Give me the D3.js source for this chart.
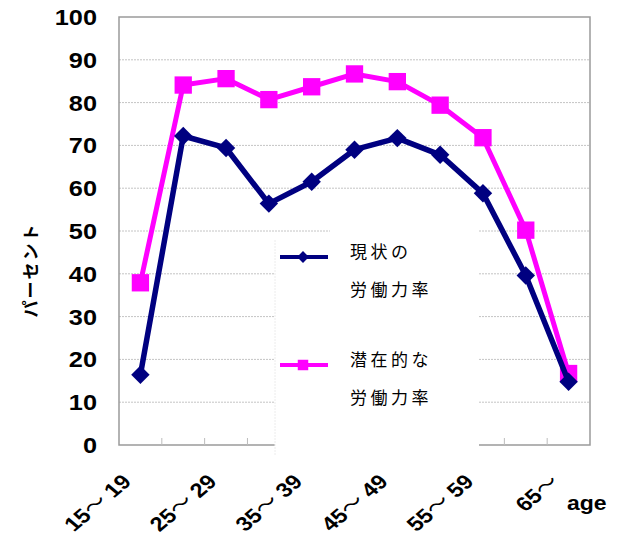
<!DOCTYPE html>
<html>
<head>
<meta charset="utf-8">
<script src="https://cdn.jsdelivr.net/npm/d3@7"></script>
<style>
  html, body { margin: 0; padding: 0; background: #ffffff; }
  svg { display: block; }
</style>
</head>
<body>
<svg id="chart" width="622" height="543"></svg>
<script>
// Age groups (five-year bands)
const categories = ["15～19", "20～24", "25～29", "30～34", "35～39", "40～44",
                    "45～49", "50～54", "55～59", "60～64", "65～"];
// Current labour force participation rate (%)
const currentRate = [16.4, 72.2, 69.4, 56.4, 61.5, 69.0, 71.7, 67.8, 58.8, 39.6, 14.8];
// Potential labour force participation rate (%)
const potentialRate = [37.9, 84.1, 85.6, 80.7, 83.7, 86.7, 84.9, 79.4, 71.8, 50.2, 16.7];
const yTicks = [0, 10, 20, 30, 40, 50, 60, 70, 80, 90, 100];
const seriesNames = [["現状の", "労働力率"], ["潜在的な", "労働力率"]];

const svg = d3.select("#chart");
const plot = { left: 119, right: 590, top: 17, bottom: 445 };

const x = d3.scaleBand().domain(categories).range([plot.left, plot.right]);
const y = d3.scaleLinear().domain([0, 100]).range([plot.bottom, plot.top]);
const cx = d => x(d) + x.bandwidth() / 2;

const latin = "'Liberation Sans', Arial, sans-serif";
const cjk = "'Noto Sans CJK JP', sans-serif";

// Horizontal gridlines
svg.append("g").selectAll("line")
  .data(yTicks.filter(v => v > 0 && v < 100))
  .join("line")
  .attr("x1", plot.left).attr("x2", plot.right)
  .attr("y1", d => y(d)).attr("y2", d => y(d))
  .attr("stroke", "#c4c4c4").attr("stroke-width", 1)
  .attr("stroke-dasharray", "2,1");

// Plot frame
svg.append("rect")
  .attr("x", plot.left).attr("y", plot.top)
  .attr("width", plot.right - plot.left).attr("height", plot.bottom - plot.top)
  .attr("fill", "none").attr("stroke", "#9a9a9a").attr("stroke-width", 1.5);

// Category boundary ticks on the bottom axis
svg.append("g").selectAll("line")
  .data(categories.slice(1))
  .join("line")
  .attr("x1", d => x(d)).attr("x2", d => x(d))
  .attr("y1", plot.bottom).attr("y2", plot.bottom - 7)
  .attr("stroke", "#bcbcbc").attr("stroke-width", 1);

// Y tick labels (slightly wide lettering)
svg.append("g").selectAll("text")
  .data(yTicks)
  .join("text")
  .attr("transform", d => `translate(97,${y(d)}) scale(1.15,1)`)
  .attr("dy", "0.36em")
  .attr("text-anchor", "end")
  .attr("font-family", latin).attr("font-weight", "bold").attr("font-size", 22)
  .attr("fill", "#000")
  .text(d => d);

// Y axis title
svg.append("text")
  .attr("transform", "translate(37,270) rotate(-90)")
  .attr("text-anchor", "middle")
  .attr("font-family", cjk).attr("font-weight", "bold").attr("font-size", 17)
  .attr("letter-spacing", 2)
  .attr("fill", "#000")
  .text("パーセント");

// X tick labels, every other age band, slanted
const xLabels = svg.append("g").selectAll("text")
  .data(categories.filter((d, i) => i % 2 === 0))
  .join("text")
  .attr("transform", d => `translate(${cx(d) - 8},${483}) scale(1.18,1) rotate(-45)`)
  .attr("text-anchor", "end")
  .attr("font-family", latin).attr("font-weight", "bold").attr("font-size", 20)
  .attr("fill", "#000");
xLabels.each(function (d) {
  const parts = d.split("～");
  const t = d3.select(this);
  t.append("tspan").text(parts[0]);
  t.append("tspan").attr("font-family", cjk).attr("font-weight", "normal").text("～");
  if (parts[1]) t.append("tspan").text(" " + parts[1]);
});

svg.append("text")
  .attr("transform", "translate(567,510) scale(1.15,1)")
  .attr("font-family", latin).attr("font-weight", "bold").attr("font-size", 20)
  .attr("fill", "#000")
  .text("age");

// Series
const line = d3.line().x((d, i) => cx(categories[i])).y(d => y(d));

function drawSeries(values, color, diamond, size, width) {
  const g = svg.append("g");
  g.append("path")
    .datum(values)
    .attr("d", line)
    .attr("fill", "none").attr("stroke", color).attr("stroke-width", width)
    .attr("stroke-linejoin", "round");
  g.selectAll("path.m")
    .data(values)
    .join("path")
    .attr("class", "m")
    .attr("d", d3.symbol().type(d3.symbolSquare).size(size))
    .attr("transform", (d, i) => `translate(${cx(categories[i])},${y(d)})` + (diamond ? " rotate(45)" : ""))
    .attr("fill", color);
}

drawSeries(potentialRate, "#ff00ff", false, 300, 5);
drawSeries(currentRate, "#000080", true, 170, 5.5);

// Legend
const legend = svg.append("g");
legend.append("rect").attr("x", 275).attr("y", 240).attr("width", 204).attr("height", 212).attr("fill", "#fff");
legend.append("rect").attr("x", 330).attr("y", 222).attr("width", 149).attr("height", 230).attr("fill", "#fff");
legend.append("line")
  .attr("x1", 275).attr("x2", 275).attr("y1", 240).attr("y2", 455)
  .attr("stroke", "#ececec").attr("stroke-width", 1).attr("stroke-dasharray", "2,1");

const legendItems = [
  { color: "#000080", y: 257, names: seriesNames[0], diamond: true },
  { color: "#ff00ff", y: 365, names: seriesNames[1], diamond: false }
];
legendItems.forEach(it => {
  legend.append("line")
    .attr("x1", 280).attr("x2", 328).attr("y1", it.y).attr("y2", it.y)
    .attr("stroke", it.color).attr("stroke-width", 4);
  legend.append("path")
    .attr("d", d3.symbol().type(d3.symbolSquare).size(it.diamond ? 70 : 110))
    .attr("transform", `translate(303,${it.y})` + (it.diamond ? " rotate(45)" : ""))
    .attr("fill", it.color);
  it.names.forEach((t, k) => {
    legend.append("text")
      .attr("x", 350).attr("y", it.y - 5 + k * 38)
      .attr("dy", "0.36em")
      .attr("font-family", cjk).attr("font-size", 17)
      .attr("letter-spacing", 3.5)
      .attr("fill", "#000")
      .text(t);
  });
});
</script>
</body>
</html>
